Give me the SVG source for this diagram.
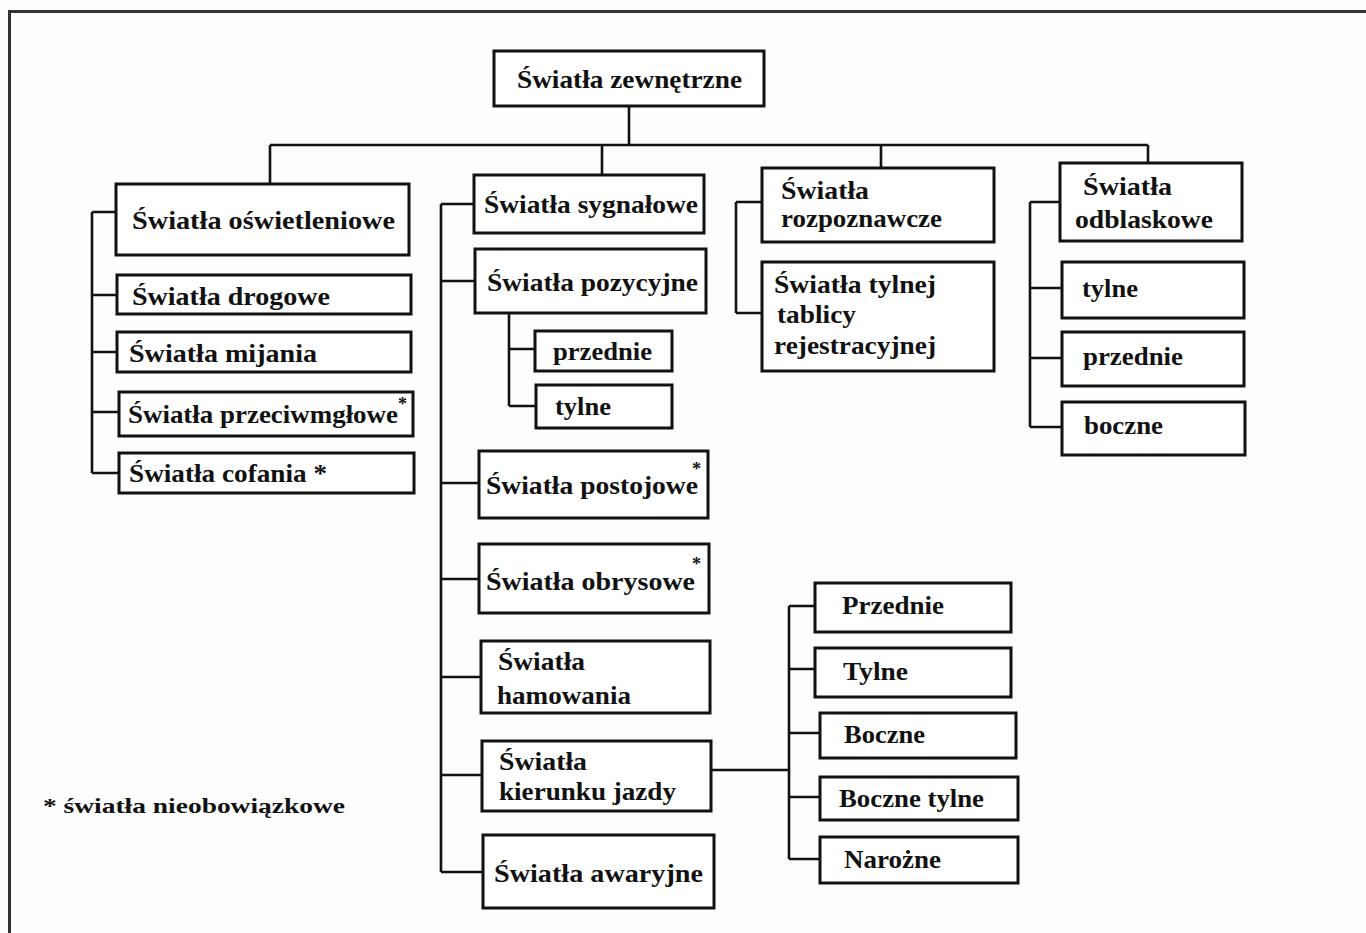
<svg xmlns="http://www.w3.org/2000/svg" width="1366" height="933" viewBox="0 0 1366 933">
<style>
  .box { fill: #fff; stroke: #111; stroke-width: 3; }
  .ln { fill: none; stroke: #111; stroke-width: 2.6; }
  text { font-family: "Liberation Serif", "Times New Roman", serif; font-weight: bold; font-size: 26px; fill: #111; }
  .sup { font-size: 18px; }
  .note { font-size: 22px; }
</style>
<rect x="0" y="0" width="1366" height="933" fill="#fdfdfd"/>
<path d="M9.5,933 V11.5 H1366" fill="none" stroke="#333" stroke-width="3"/>

<g id="connectors">
  <path class="ln" d="M629,106 V145 M270,145 H1148 M270,145 V184 M602,145 V175 M881,145 V168 M1148,145 V163"/>
  <path class="ln" d="M92,212 V473 M92,212 H116 M92,295 H117 M92,352 H117 M92,412 H119 M92,473 H119"/>
  <path class="ln" d="M441,204 V872 M441,204 H474 M441,281 H475 M441,483 H479 M441,579 H479 M441,677 H481 M441,775 H482 M441,872 H483"/>
  <path class="ln" d="M509,313 V406 M509,349 H535 M509,406 H536"/>
  <path class="ln" d="M736,202 V313 M736,202 H762 M736,313 H762"/>
  <path class="ln" d="M1030,202 V427 M1030,202 H1060 M1030,288 H1062 M1030,358 H1062 M1030,427 H1062"/>
  <path class="ln" d="M711,770 H789 M789,606 V859 M789,606 H815 M789,669 H815 M789,733 H820 M789,797 H820 M789,859 H820"/>
</g>

<g id="root">
  <rect class="box" x="494" y="51" width="270" height="55"/>
  <text x="517" y="88" textLength="225" lengthAdjust="spacingAndGlyphs">Światła zewnętrzne</text>
</g>

<g id="oswietleniowe">
  <rect class="box" x="116" y="184" width="293" height="71"/>
  <text x="132" y="229" textLength="263" lengthAdjust="spacingAndGlyphs">Światła oświetleniowe</text>
</g>
<g id="drogowe">
  <rect class="box" x="117" y="275" width="294" height="39"/>
  <text x="132" y="305" textLength="198" lengthAdjust="spacingAndGlyphs">Światła drogowe</text>
</g>
<g id="mijania">
  <rect class="box" x="117" y="332" width="294" height="40"/>
  <text x="129" y="362" textLength="188" lengthAdjust="spacingAndGlyphs">Światła mijania</text>
</g>
<g id="przeciwmglowe">
  <rect class="box" x="119" y="392" width="294" height="44"/>
  <text x="128" y="423" textLength="270" lengthAdjust="spacingAndGlyphs">Światła przeciwmgłowe</text>
  <text class="sup" x="398" y="410">*</text>
</g>
<g id="cofania">
  <rect class="box" x="119" y="453" width="295" height="40"/>
  <text x="129" y="482" textLength="198" lengthAdjust="spacingAndGlyphs">Światła cofania *</text>
</g>

<g id="sygnalowe">
  <rect class="box" x="474" y="175" width="230" height="58"/>
  <text x="484" y="213" textLength="214" lengthAdjust="spacingAndGlyphs">Światła sygnałowe</text>
</g>
<g id="pozycyjne">
  <rect class="box" x="475" y="249" width="231" height="64"/>
  <text x="487" y="291" textLength="211" lengthAdjust="spacingAndGlyphs">Światła pozycyjne</text>
</g>
<g id="poz-przednie">
  <rect class="box" x="535" y="331" width="137" height="40"/>
  <text x="553" y="360" textLength="99" lengthAdjust="spacingAndGlyphs">przednie</text>
</g>
<g id="poz-tylne">
  <rect class="box" x="536" y="385" width="136" height="43"/>
  <text x="555" y="415" textLength="56" lengthAdjust="spacingAndGlyphs">tylne</text>
</g>
<g id="postojowe">
  <rect class="box" x="479" y="451" width="229" height="67"/>
  <text x="486" y="494" textLength="212" lengthAdjust="spacingAndGlyphs">Światła postojowe</text>
  <text class="sup" x="692" y="475">*</text>
</g>
<g id="obrysowe">
  <rect class="box" x="479" y="544" width="230" height="69"/>
  <text x="486" y="590" textLength="209" lengthAdjust="spacingAndGlyphs">Światła obrysowe</text>
  <text class="sup" x="692" y="570">*</text>
</g>
<g id="hamowania">
  <rect class="box" x="481" y="641" width="229" height="72"/>
  <text x="498" y="670" textLength="87" lengthAdjust="spacingAndGlyphs">Światła</text>
  <text x="497" y="704" textLength="134" lengthAdjust="spacingAndGlyphs">hamowania</text>
</g>
<g id="kierunku">
  <rect class="box" x="482" y="741" width="229" height="70"/>
  <text x="499" y="770" textLength="88" lengthAdjust="spacingAndGlyphs">Światła</text>
  <text x="499" y="800" textLength="177" lengthAdjust="spacingAndGlyphs">kierunku jazdy</text>
</g>
<g id="awaryjne">
  <rect class="box" x="483" y="835" width="231" height="73"/>
  <text x="494" y="882" textLength="209" lengthAdjust="spacingAndGlyphs">Światła awaryjne</text>
</g>

<g id="kier-przednie">
  <rect class="box" x="815" y="583" width="196" height="49"/>
  <text x="842" y="614" textLength="102" lengthAdjust="spacingAndGlyphs">Przednie</text>
</g>
<g id="kier-tylne">
  <rect class="box" x="815" y="648" width="196" height="49"/>
  <text x="843" y="680" textLength="65" lengthAdjust="spacingAndGlyphs">Tylne</text>
</g>
<g id="kier-boczne">
  <rect class="box" x="820" y="713" width="196" height="45"/>
  <text x="844" y="743" textLength="81" lengthAdjust="spacingAndGlyphs">Boczne</text>
</g>
<g id="kier-boczne-tylne">
  <rect class="box" x="820" y="777" width="198" height="43"/>
  <text x="839" y="807" textLength="145" lengthAdjust="spacingAndGlyphs">Boczne tylne</text>
</g>
<g id="kier-narozne">
  <rect class="box" x="820" y="837" width="198" height="46"/>
  <text x="844" y="868" textLength="97" lengthAdjust="spacingAndGlyphs">Narożne</text>
</g>

<g id="rozpoznawcze">
  <rect class="box" x="762" y="168" width="232" height="74"/>
  <text x="781" y="199" textLength="88" lengthAdjust="spacingAndGlyphs">Światła</text>
  <text x="781" y="227" textLength="161" lengthAdjust="spacingAndGlyphs">rozpoznawcze</text>
</g>
<g id="tablicy">
  <rect class="box" x="762" y="262" width="232" height="109"/>
  <text x="774" y="293" textLength="162" lengthAdjust="spacingAndGlyphs">Światła tylnej</text>
  <text x="777" y="323" textLength="79" lengthAdjust="spacingAndGlyphs">tablicy</text>
  <text x="774" y="354" textLength="162" lengthAdjust="spacingAndGlyphs">rejestracyjnej</text>
</g>

<g id="odblaskowe">
  <rect class="box" x="1060" y="163" width="182" height="78"/>
  <text x="1083" y="195" textLength="89" lengthAdjust="spacingAndGlyphs">Światła</text>
  <text x="1075" y="228" textLength="138" lengthAdjust="spacingAndGlyphs">odblaskowe</text>
</g>
<g id="odbl-tylne">
  <rect class="box" x="1062" y="262" width="182" height="56"/>
  <text x="1082" y="297" textLength="56" lengthAdjust="spacingAndGlyphs">tylne</text>
</g>
<g id="odbl-przednie">
  <rect class="box" x="1062" y="332" width="182" height="54"/>
  <text x="1083" y="365" textLength="100" lengthAdjust="spacingAndGlyphs">przednie</text>
</g>
<g id="odbl-boczne">
  <rect class="box" x="1062" y="402" width="183" height="53"/>
  <text x="1084" y="434" textLength="79" lengthAdjust="spacingAndGlyphs">boczne</text>
</g>

<g id="footnote">
  <text class="note" x="43" y="813" textLength="302" lengthAdjust="spacingAndGlyphs">* światła nieobowiązkowe</text>
</g>
</svg>
